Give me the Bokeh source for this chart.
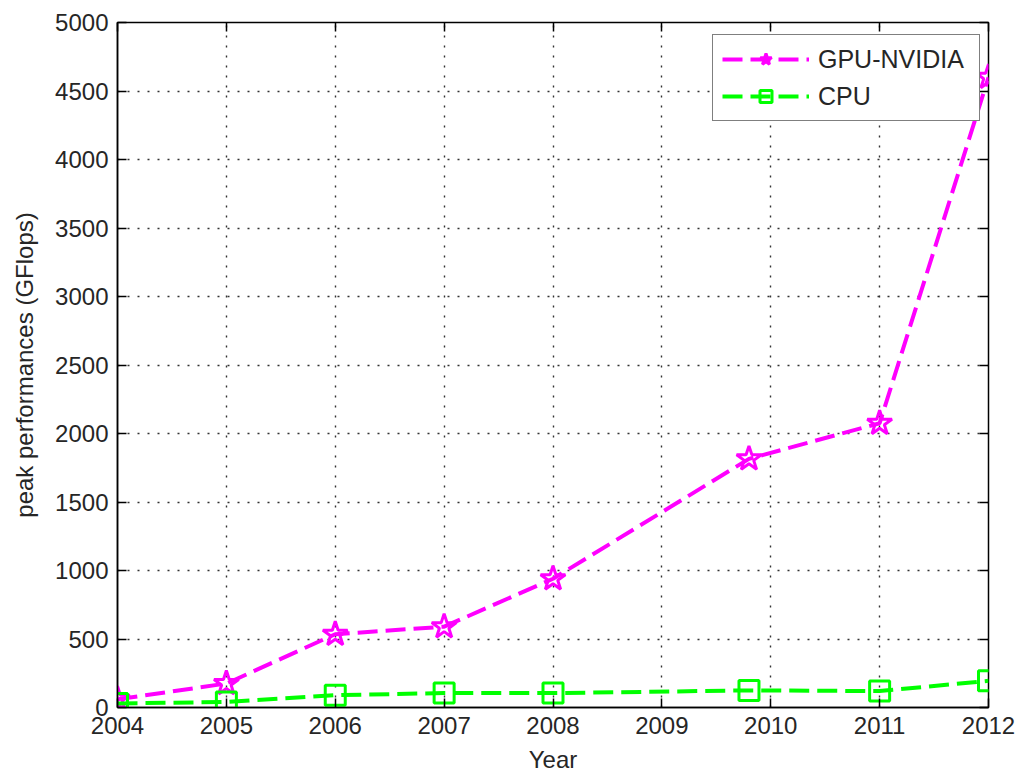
from bokeh.plotting import figure
from bokeh.models import Range1d, LinearAxis, FixedTicker, Legend, LegendItem
from bokeh.embed import file_html
from bokeh.resources import INLINE

# Data
gpu_years = [2004, 2005, 2006, 2007, 2008, 2009.8, 2011, 2012]
gpu_values = [60, 175, 535, 590, 940, 1815, 2075, 4600]
cpu_years = [2004, 2005, 2006, 2007, 2008, 2009.8, 2011, 2012]
cpu_values = [30, 40, 90, 105, 105, 125, 120, 195]
x_ticks = [2004, 2005, 2006, 2007, 2008, 2009, 2010, 2011, 2012]
y_ticks = [0, 500, 1000, 1500, 2000, 2500, 3000, 3500, 4000, 4500, 5000]

FONT = "Liberation Sans"
TXT = "#262626"
FS = "24px"

p = figure(width=1019, height=783, output_backend="svg", toolbar_location=None,
           x_range=Range1d(2004, 2012), y_range=Range1d(0, 5000),
           min_border_left=117, min_border_right=31, min_border_top=22, min_border_bottom=76)
p.background_fill_color = "white"
p.border_fill_color = "white"
p.outline_line_color = "black"
p.outline_line_width = 1.5

for ax in (p.xaxis[0], p.yaxis[0]):
    ax.major_tick_in = 9
    ax.major_tick_out = 0
    ax.minor_tick_line_color = None
    ax.axis_line_color = "black"
    ax.axis_line_width = 1.5
    ax.major_tick_line_width = 1.5
    ax.major_label_text_font = FONT
    ax.major_label_text_font_size = FS
    ax.major_label_text_color = TXT
    ax.axis_label_text_font = FONT
    ax.axis_label_text_font_size = FS
    ax.axis_label_text_font_style = "normal"
    ax.axis_label_text_color = TXT

p.xaxis[0].ticker = FixedTicker(ticks=x_ticks)
p.yaxis[0].ticker = FixedTicker(ticks=y_ticks)
p.xaxis[0].axis_label = "Year"
p.yaxis[0].axis_label = "peak performances (GFlops)"
p.xaxis[0].major_label_standoff = 9
p.xaxis[0].axis_label_standoff = 9
p.yaxis[0].major_label_standoff = 9
p.yaxis[0].axis_label_standoff = 14

# mirrored ticks on top and right
top = LinearAxis(ticker=FixedTicker(ticks=x_ticks))
right = LinearAxis(ticker=FixedTicker(ticks=y_ticks))
for ax in (top, right):
    ax.major_tick_in = 9
    ax.major_tick_out = 0
    ax.minor_tick_line_color = None
    ax.axis_line_color = None
    ax.major_tick_line_width = 1.5
    ax.major_label_text_font_size = "0px"
    ax.major_label_standoff = 0
    ax.major_label_text_alpha = 0
p.add_layout(top, "above")
p.add_layout(right, "right")

p.xgrid.ticker = FixedTicker(ticks=x_ticks)
p.ygrid.ticker = FixedTicker(ticks=y_ticks)
for g in (p.xgrid[0], p.ygrid[0]):
    g.grid_line_color = "#333333"
    g.grid_line_width = 1.4
    g.grid_line_dash = "2 8"

gl = p.line(gpu_years, gpu_values, line_color="#FF00FF", line_width=4, line_dash="20 8")
gs = p.scatter(gpu_years, gpu_values, marker="star", size=26, line_color="#FF00FF",
               line_width=3, fill_color=None)
cl = p.line(cpu_years, cpu_values, line_color="#00FF00", line_width=4, line_dash="20 8")
cs = p.scatter(cpu_years, cpu_values, marker="square", size=20, line_color="#00FF00",
               line_width=3, fill_color=None)

legend = Legend(items=[LegendItem(label="GPU-NVIDIA", renderers=[gl, gs]),
                       LegendItem(label="CPU", renderers=[cl, cs])],
                location=(595, 586))
legend.label_text_font = FONT
legend.label_text_font_size = "25px"
legend.label_text_color = TXT
legend.border_line_color = "black"
legend.border_line_width = 1.5
legend.background_fill_color = "white"
legend.background_fill_alpha = 1
legend.padding = 9
legend.spacing = 7
legend.glyph_width = 87
legend.glyph_height = 30
legend.label_standoff = 9
legend.label_height = 30
legend.label_width = 152
legend.margin = 0
p.add_layout(legend, "center")

open("out.html", "w").write(file_html(p, INLINE))
